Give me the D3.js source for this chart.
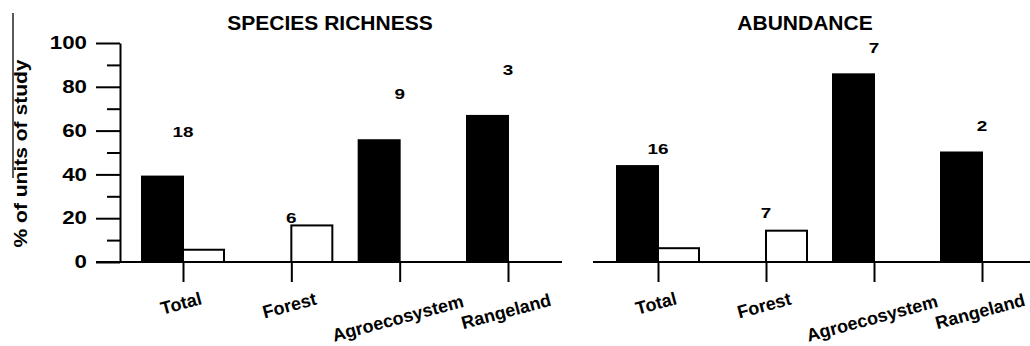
<!DOCTYPE html>
<html>
<head>
<meta charset="utf-8">
<script src="https://cdn.jsdelivr.net/npm/d3@7"></script>
<style>
  body { margin: 0; background: #fff; }
  svg { display: block; }
  text { font-family: "Liberation Sans", Arial, sans-serif; font-weight: bold; fill: #000; }
</style>
</head>
<body>
<svg id="chart" width="1030" height="346"></svg>
<script>
// ---- data ----
const categories = ["Total", "Forest", "Agroecosystem", "Rangeland"];
const panelTitles = ["SPECIES RICHNESS", "ABUNDANCE"];
const richnessBlack = [39, 0, 55.6, 66.7];
const richnessWhite = [5.6, 16.7, 0, 0];
const richnessN = ["18", "6", "9", "3"];
const richnessNLevel = [57, 18, 74.5, 85.5];
const abundanceBlack = [43.8, 0, 85.7, 50];
const abundanceWhite = [6.3, 14.3, 0, 0];
const abundanceN = ["16", "7", "7", "2"];
const abundanceNLevel = [49.5, 20, 95.5, 60];
const yTicks = [0, 20, 40, 60, 80, 100];
const yMinorTicks = [10, 30, 50, 70, 90];
const yLabel = "% of units of study";

// ---- layout ----
const svg = d3.select("#chart");
const y = d3.scaleLinear().domain([0, 100]).range([262, 43]);
const series = ["black", "white"];
const inner = d3.scaleBand().domain(series).range([-41, 41]).padding(0);

const panels = [
  { title: panelTitles[0], black: richnessBlack, white: richnessWhite, n: richnessN, nLevel: richnessNLevel,
    range: [183, 508], axisExtent: [96, 562], titleX: 330, yAxis: true },
  { title: panelTitles[1], black: abundanceBlack, white: abundanceWhite, n: abundanceN, nLevel: abundanceNLevel,
    range: [658, 982], axisExtent: [593, 1032], titleX: 805, yAxis: false }
];

panels.forEach(p => {
  const x = d3.scalePoint().domain(categories).range(p.range);
  const g = svg.append("g");

  // bars
  const rows = categories.map((c, i) => ({ c, black: p.black[i], white: p.white[i], n: p.n[i], lvl: p.nLevel[i] }));
  rows.forEach(r => {
    series.forEach(s => {
      const v = r[s];
      if (v <= 0) return;
      g.append("rect")
        .attr("x", x(r.c) + inner(s))
        .attr("y", y(v))
        .attr("width", inner.bandwidth())
        .attr("height", y(0) - y(v))
        .attr("fill", s === "black" ? "#000" : "#fff")
        .attr("stroke", "#000")
        .attr("stroke-width", 2);
    });
    g.append("text")
      .attr("x", x(r.c))
      .attr("y", y(r.lvl))
      .attr("text-anchor", "middle")
      .attr("textLength", 10.5 * r.n.length)
      .attr("lengthAdjust", "spacingAndGlyphs")
      .style("font-size", "15px")
      .text(r.n);
  });

  // x axis
  const xAxis = g.append("g")
    .attr("transform", `translate(0,${y(0)})`)
    .call(d3.axisBottom(x).tickSize(20).tickSizeOuter(0));
  xAxis.select(".domain").remove();
  xAxis.selectAll(".tick line").attr("stroke", "#000").attr("stroke-width", 2);
  xAxis.append("line")
    .attr("x1", p.axisExtent[0]).attr("x2", p.axisExtent[1])
    .attr("y1", 0).attr("y2", 0)
    .attr("stroke", "#000").attr("stroke-width", 2);
  xAxis.selectAll(".tick text")
    .attr("fill", "#000")
    .style("font-size", "18px")
    .attr("text-anchor", "middle")
    .attr("dy", null)
    .attr("y", 0)
    .each(function () {
      const w = this.getComputedTextLength();
      const dy = 36 + 0.16 * w;
      d3.select(this).attr("transform", `translate(-2,${dy}) rotate(-15)`).attr("dominant-baseline", "middle");
    });

  // title
  svg.append("text")
    .attr("x", p.titleX).attr("y", 30)
    .attr("text-anchor", "middle")
    .style("font-size", "21px")
    .text(p.title);

  // y axis
  if (p.yAxis) {
    const ya = svg.append("g").attr("transform", "translate(120,0)");
    ya.call(d3.axisLeft(y).tickValues(yTicks).tickSize(24).tickSizeOuter(0).tickPadding(9));
    ya.select(".domain").attr("stroke", "#000").attr("stroke-width", 2);
    ya.selectAll(".tick line").attr("stroke", "#000").attr("stroke-width", 2);
    ya.selectAll(".tick text")
      .attr("fill", "#000")
      .style("font-size", "18px")
      .attr("textLength", d => 12.4 * String(d).length)
      .attr("lengthAdjust", "spacingAndGlyphs");
    const ym = svg.append("g").attr("transform", "translate(120,0)");
    ym.call(d3.axisLeft(y).tickValues(yMinorTicks).tickSize(13).tickSizeOuter(0).tickFormat(""));
    ym.select(".domain").remove();
    ym.selectAll(".tick line").attr("stroke", "#000").attr("stroke-width", 2);

    svg.append("text")
      .attr("transform", `translate(27,${(y(0) + y(100)) / 2 + 1}) rotate(-90)`)
      .attr("text-anchor", "middle")
      .attr("textLength", 188)
      .attr("lengthAdjust", "spacingAndGlyphs")
      .style("font-size", "19px")
      .text(yLabel);
    svg.append("line")
      .attr("x1", 13).attr("x2", 13).attr("y1", 13).attr("y2", 178)
      .attr("stroke", "#222").attr("stroke-width", 1.5);
  }
});
</script>
</body>
</html>
